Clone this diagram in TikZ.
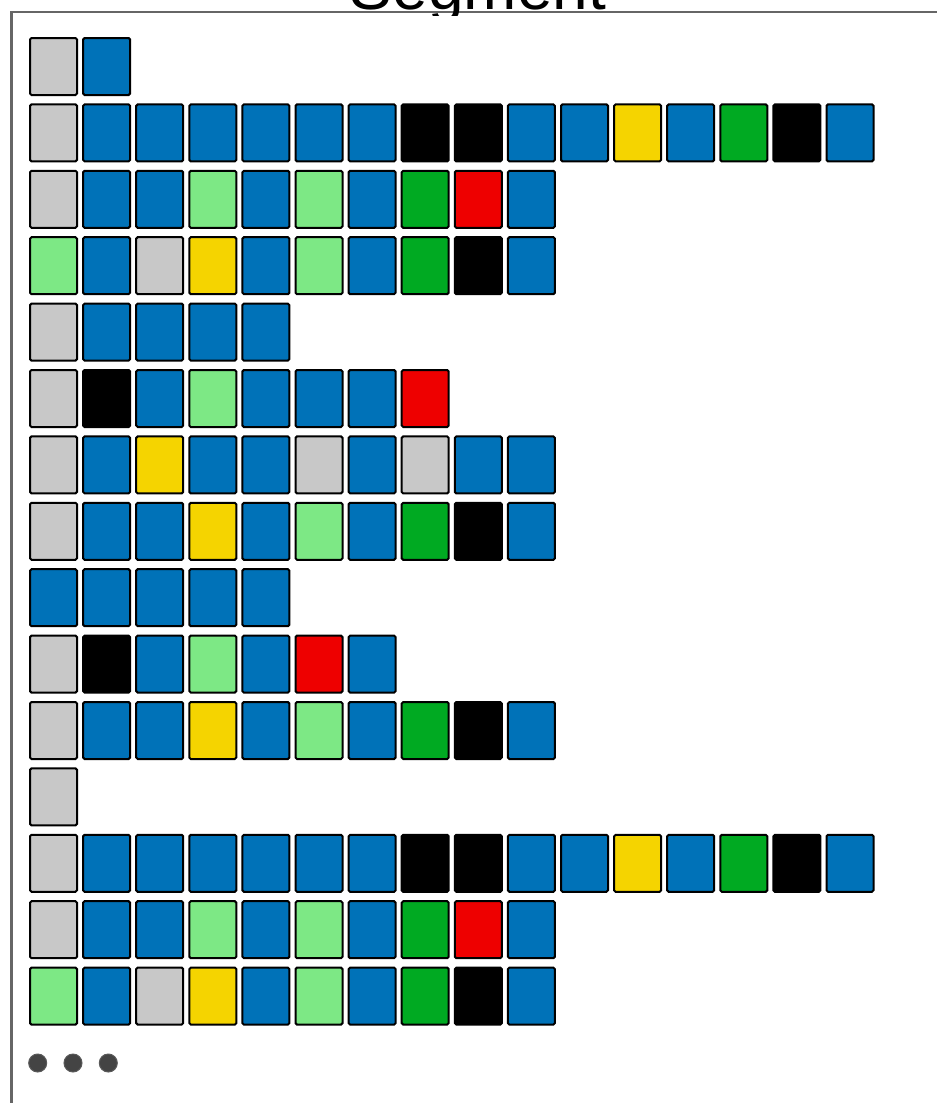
\documentclass[tikz,border=0pt]{standalone}
\usepackage{fontspec}
\setmainfont{Liberation Sans}
\definecolor{cG}{HTML}{C8C8C8}
\definecolor{cB}{HTML}{0072B8}
\definecolor{cK}{HTML}{000000}
\definecolor{cY}{HTML}{F5D400}
\definecolor{cD}{HTML}{00AA22}
\definecolor{cL}{HTML}{7DE885}
\definecolor{cR}{HTML}{EE0000}
\definecolor{framecol}{HTML}{666666}
\definecolor{dotcol}{HTML}{444444}
\begin{document}
\begin{tikzpicture}[x=1pt,y=-1pt,
  cellbox/.style={draw=black, line width=2pt, rounded corners=1.5pt, minimum width=47pt, minimum height=57pt, inner sep=0pt, outer sep=0pt},
  dotnode/.style={circle, fill=dotcol, draw=black!65, line width=1pt, minimum size=18pt, inner sep=0pt}]
\clip (0,0) rectangle (937,1103);
\fill[white] (0,0) rectangle (937,1103);
\draw[framecol, line width=2.2pt] (11.5,12) rectangle (980,1150);
\begin{scope}
  \clip (0,0) rectangle (937,15.5);
  \node[anchor=base, inner sep=0pt, font=\fontsize{64}{70}\selectfont] (title) at (478,9) {Segment};
\end{scope}
\foreach \r/\cl in {
  1/{G,B},
  2/{G,B,B,B,B,B,B,K,K,B,B,Y,B,D,K,B},
  3/{G,B,B,L,B,L,B,D,R,B},
  4/{L,B,G,Y,B,L,B,D,K,B},
  5/{G,B,B,B,B},
  6/{G,K,B,L,B,B,B,R},
  7/{G,B,Y,B,B,G,B,G,B,B},
  8/{G,B,B,Y,B,L,B,D,K,B},
  9/{B,B,B,B,B},
  10/{G,K,B,L,B,R,B},
  11/{G,B,B,Y,B,L,B,D,K,B},
  12/{G},
  13/{G,B,B,B,B,B,B,K,K,B,B,Y,B,D,K,B},
  14/{G,B,B,L,B,L,B,D,R,B},
  15/{L,B,G,Y,B,L,B,D,K,B}}{
  \foreach \c [count=\i] in \cl {
    \node[cellbox, fill=c\c] (r\r c\i) at ({53.5+53.1*(\i-1)}, {66.5+66.4*(\r-1)}) {};
  }
}
\node[dotnode] (d1) at (37.7,1063) {};
\node[dotnode] (d2) at (73,1063) {};
\node[dotnode] (d3) at (108.3,1063) {};
\end{tikzpicture}
\end{document}
